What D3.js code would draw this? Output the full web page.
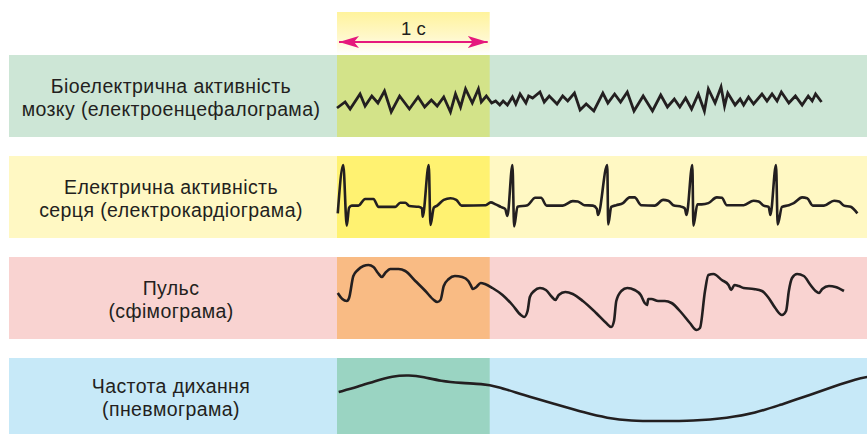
<!DOCTYPE html>
<html><head><meta charset="utf-8">
<script src="https://cdn.jsdelivr.net/npm/d3@7"></script>
<style>html,body{margin:0;padding:0;background:#fff;}svg{display:block;}</style>
</head><body>
<svg id="chart" width="867" height="434"></svg>
<script>
// ---------- DATA ----------
const panelLabels = [
  ["Біоелектрична активність", "мозку (електроенцефалограма)"],
  ["Електрична активність", "серця (електрокардіограма)"],
  ["Пульс", "(сфімограма)"],
  ["Частота дихання", "(пневмограма)"]
];
const scaleLabel = "1 с";
const markedInterval = [0, 1]; // seconds

// EEG: time (s), potential (µV)
const eegT = [0,0.053,0.086,0.151,0.184,0.228,0.268,0.311,0.355,0.410,0.474,0.531,0.574,0.618,0.656,0.699,0.743,0.776,0.809,0.842,0.886,0.926,0.945,0.978,1.013,1.039,1.066,1.088,1.116,1.149,1.171,1.199,1.237,1.255,1.281,1.329,1.357,1.390,1.441,1.478,1.511,1.555,1.592,1.632,1.682,1.741,1.774,1.818,1.857,1.901,1.945,2.005,2.066,2.120,2.164,2.209,2.245,2.283,2.322,2.366,2.406,2.432,2.476,2.515,2.538,2.559,2.607,2.640,2.663,2.695,2.728,2.783,2.816,2.849,2.882,2.910,2.959,3.002,3.046,3.086,3.112,3.134,3.173];
const eegV = [-8,-2,-9,6,-6,4,-3,9,-12,4,-9,3,-7,0,-6,3,-12,6,-7,11,-3,11,-2,4,-3,-1,-5,-1,-5,3,-4,6,-3,4,2,8,-2,4,-4,4,-1,7,-10,-4,-11,7,-3,6,-2,8,-11,4,-11,5,-7,1,-7,2,-9,6,-11,11,-3,13,-6,7,-5,1,-5,3,-4,6,-1,6,-1,8,-3,4,-5,4,-1,6,-2];

// ECG: time (s), voltage (mV)
const ecgT = [0.005,0.041,0.064,0.079,0.097,0.140,0.184,0.239,0.272,0.382,0.414,0.447,0.474,0.535,0.557,0.561,0.601,0.612,0.634,0.656,0.699,0.743,0.781,0.816,0.974,1.007,1.039,1.072,1.101,1.116,1.149,1.160,1.182,1.248,1.298,1.336,1.373,1.478,1.544,1.577,1.620,1.676,1.702,1.709,1.770,1.776,1.796,1.829,1.873,1.916,1.949,1.993,2.081,2.136,2.169,2.202,2.257,2.278,2.289,2.327,2.334,2.360,2.388,2.432,2.487,2.520,2.553,2.663,2.728,2.761,2.794,2.827,2.838,2.875,2.886,2.914,2.959,2.991,3.046,3.079,3.116,3.189,3.255,3.288,3.320,3.364,3.408];
const ecgV = [-0.20,0.98,-0.50,-0.06,-0.01,-0.01,0.15,0.15,-0.04,-0.04,0.06,0.06,-0.02,-0.04,-0.08,-0.28,0.98,-0.48,-0.06,-0.01,0.13,0.17,0.13,-0.01,0.00,0.07,0.02,-0.04,-0.09,-0.26,0.98,-0.52,-0.04,0.00,0.18,0.18,-0.01,-0.01,0.10,0.09,0.00,-0.01,-0.09,-0.24,0.98,-0.47,-0.04,0.00,0.05,0.19,0.19,0.00,-0.01,0.13,0.11,0.00,-0.04,-0.08,-0.24,0.98,-0.50,0.02,0.02,0.05,0.19,0.18,0.00,0.00,0.11,0.09,-0.01,-0.04,-0.24,0.98,-0.47,-0.04,0.00,0.05,0.19,0.17,-0.01,-0.01,0.11,0.09,-0.01,-0.04,-0.20];

// Pulse (sphygmogram): time (s), arbitrary units
const pulseT = [0.005,0.035,0.064,0.079,0.107,0.136,0.173,0.206,0.239,0.268,0.294,0.316,0.349,0.403,0.447,0.513,0.579,0.634,0.656,0.678,0.699,0.732,0.772,0.820,0.860,0.875,0.890,0.913,0.941,0.969,1.018,1.084,1.149,1.204,1.226,1.248,1.263,1.291,1.329,1.368,1.408,1.430,1.452,1.495,1.544,1.610,1.697,1.763,1.796,1.814,1.829,1.862,1.901,1.949,1.989,2.015,2.031,2.038,2.059,2.103,2.147,2.191,2.257,2.311,2.355,2.377,2.410,2.432,2.465,2.520,2.564,2.581,2.603,2.630,2.663,2.728,2.783,2.827,2.870,2.914,2.941,2.959,2.980,3.013,3.057,3.101,3.134,3.156,3.178,3.222,3.265,3.320];
const pulseV = [46,40,38,41,63,69,73,74,72,66,62,66,70,70,68,58,48,39,37,39,53,60,63,62,58,54,50,52,56,55,51,44,34,24,22,28,42,48,51,49,42,39,44,47,45,38,26,16,12,18,38,48,51,49,44,36,34,40,40,38,38,36,26,16,9,11,48,64,65,59,54,49,54,53,51,50,48,41,31,24,28,48,61,65,63,54,48,46,50,53,52,48];

// Pneumogram: time (s), arbitrary units
const pneumoT = [0.011,0.135,0.249,0.362,0.475,0.566,0.679,0.815,0.951,1.041,1.222,1.426,1.630,1.766,1.925,2.106,2.333,2.559,2.741,2.899,3.080,3.262,3.397,3.507];
const pneumoV = [42,47,53,58,59,57,53,51,50,48,39,30,21,16,13,13,13,16,21,29,38,48,55,58];

// ---------- LAYOUT ----------
const svg = d3.select("#chart");
const panelX0 = 9, panelX1 = 867;
const FONT = "'Liberation Sans', Arial, Helvetica, sans-serif";
const bands = [
  {top: 55, bottom: 137, bg: "#cde6d6", hi: "#d3e389", domain: [-37, 45], T: eegT, V: eegV, curve: d3.curveLinear},
  {top: 156, bottom: 238, bg: "#fff8c3", hi: "#fff271", domain: [-0.8, 1.2], T: ecgT, V: ecgV, curve: d3.curveMonotoneX},
  {top: 257, bottom: 339, bg: "#f9d3d1", hi: "#f9bb84", domain: [0, 82], T: pulseT, V: pulseV, curve: d3.curveMonotoneX},
  {top: 358, bottom: 434, bg: "#c7e9f8", hi: "#9ad4c2", domain: [0, 76], T: pneumoT, V: pneumoV, curve: d3.curveBasis}
];

const x = d3.scaleLinear().domain([0, 1]).range([337, 489.7]);

// top header gradient band
const defs = svg.append("defs");
const grad = defs.append("linearGradient").attr("id", "hdr").attr("x1", 0).attr("x2", 0).attr("y1", 0).attr("y2", 1);
grad.append("stop").attr("offset", "0%").attr("stop-color", "#fff39c");
grad.append("stop").attr("offset", "60%").attr("stop-color", "#fff8cc");
grad.append("stop").attr("offset", "100%").attr("stop-color", "#ffffff");
svg.append("rect")
  .attr("x", x(markedInterval[0])).attr("y", 12)
  .attr("width", x(markedInterval[1]) - x(markedInterval[0])).attr("height", 43)
  .attr("fill", "url(#hdr)");

// arrow
const arrowCol = "#e5197d";
defs.append("marker").attr("id", "arr")
  .attr("viewBox", "0 0 20 12").attr("refX", 20).attr("refY", 6)
  .attr("markerWidth", 20).attr("markerHeight", 12).attr("markerUnits", "userSpaceOnUse")
  .attr("orient", "auto-start-reverse")
  .append("path").attr("d", "M0,0 L20,6 L0,12 L5,6 Z").attr("fill", arrowCol);
svg.append("line")
  .attr("x1", x(markedInterval[0]) + 2).attr("x2", x(markedInterval[1]) - 2)
  .attr("y1", 42).attr("y2", 42)
  .attr("stroke", arrowCol).attr("stroke-width", 2.2)
  .attr("marker-start", "url(#arr)").attr("marker-end", "url(#arr)");
svg.append("text")
  .attr("x", (x(markedInterval[0]) + x(markedInterval[1])) / 2).attr("y", 35)
  .attr("text-anchor", "middle")
  .attr("font-family", FONT).attr("font-size", 18.5)
  .attr("fill", "#231f20").text(scaleLabel);

bands.forEach((b, i) => {
  const g = svg.append("g");
  g.append("rect").attr("x", panelX0).attr("y", b.top)
    .attr("width", panelX1 - panelX0).attr("height", b.bottom - b.top).attr("fill", b.bg);
  g.append("rect").attr("x", x(markedInterval[0])).attr("y", b.top)
    .attr("width", x(markedInterval[1]) - x(markedInterval[0])).attr("height", b.bottom - b.top).attr("fill", b.hi);

  const y = d3.scaleLinear().domain(b.domain).range([b.bottom, b.top]);
  const pts = b.T.map((t, k) => [t, b.V[k]]);
  const line = d3.line().x(d => x(d[0])).y(d => y(d[1])).curve(b.curve);
  g.append("path").attr("d", line(pts))
    .attr("fill", "none").attr("stroke", "#231f20").attr("stroke-width", i === 0 ? 2.8 : 2.6)
    .attr("stroke-linejoin", i === 0 ? "miter" : "round").attr("stroke-miterlimit", 6)
    .attr("stroke-linecap", "butt");

  const cy = (b.top + b.bottom) / 2;
  panelLabels[i].forEach((s, j) => {
    g.append("text")
      .attr("x", 171).attr("y", cy - 3.5 + j * 23.5)
      .attr("text-anchor", "middle")
      .attr("font-family", FONT).attr("font-size", 19.5)
      .attr("letter-spacing", 0.4)
      .attr("fill", "#231f20").text(s);
  });
});
</script>
</body></html>
